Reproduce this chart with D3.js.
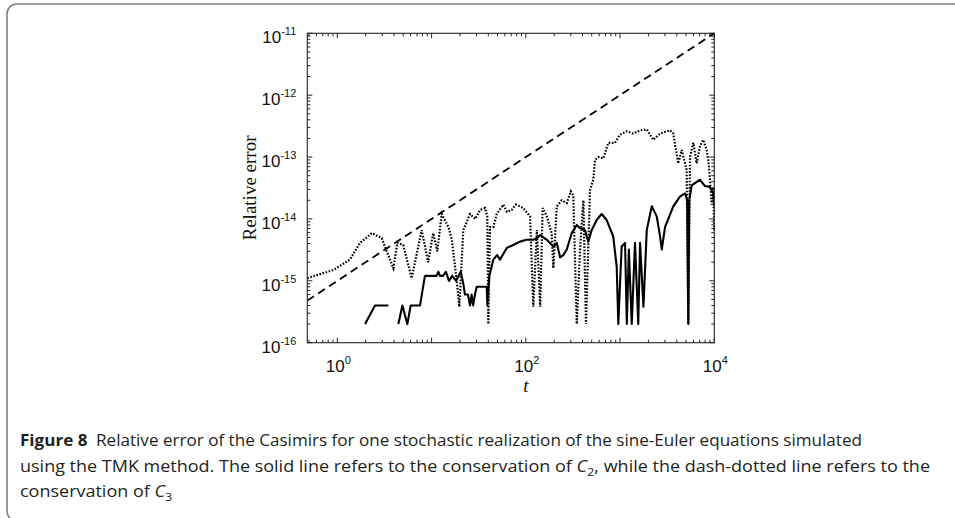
<!DOCTYPE html>
<html lang="en">
<head>
<meta charset="UTF-8">
<title>Figure 8</title>
<script src="https://d3js.org/d3.v7.min.js"></script>
<style>
  body { margin: 0; background: #fff; }
</style>
</head>
<body>
<script>
// page size
const w = 955, h = 518;

// reference line (slope 1 in log-log)
const refT = [0.48, 1e4];
const refErr = [4.8e-16, 1e-11];

// C3 conservation error [t, relative error], dotted line
const c3 = [
  [0.48, 1.1e-15], [0.91, 1.5e-15], [1.36, 2.2e-15], [1.74, 4.1e-15], [2.32, 5.9e-15],
  [2.96, 4.9e-15], [3.34, 3.0e-15], [3.93, 1.6e-15], [4.33, 4.1e-15], [5.0, 3.8e-15],
  [6.15, 1.1e-15], [7.85, 6.6e-15], [9.2, 2.0e-15], [10.4, 5.9e-15], [11.5, 3.0e-15],
  [12.8, 1.2e-14], [15.1, 7.4e-15], [16.4, 4.6e-15], [18.5, 1.0e-15], [19.7, 3.8e-16],
  [21.7, 6.6e-15], [25.6, 1.2e-14], [29, 1.0e-14], [32.7, 1.4e-14], [36.9, 1.5e-14],
  [39.0, 1.1e-14], [40.0, 2e-16], [41.7, 7.4e-15], [45.2, 7.4e-15], [49.1, 1.2e-14],
  [57.7, 1.7e-14], [63, 1.3e-14], [70.8, 1.4e-14], [78, 1.7e-14], [86.7, 1.6e-14],
  [94, 1.5e-14], [111, 1.1e-14], [120, 3.8e-16], [131, 6.6e-15], [142, 3.8e-16],
  [151, 1.5e-14], [167, 1.1e-14], [188, 5.9e-15], [196, 1.6e-15], [213, 1.6e-14],
  [240, 2.0e-14], [272, 1.8e-14], [300, 2.8e-14], [319, 2.4e-14], [347, 2e-16],
  [376, 3.2e-15], [408, 2.0e-14], [435, 2e-16], [480, 2.9e-14], [520, 4.3e-14],
  [542, 9.0e-14], [588, 1.0e-13], [664, 9.5e-14], [750, 1.7e-13], [883, 1.7e-13],
  [998, 2.3e-13], [1180, 2.6e-13], [1380, 2.4e-13], [1630, 2.7e-13], [1920, 2.8e-13],
  [2250, 1.9e-13], [2660, 2.4e-13], [3390, 2.7e-13], [3670, 2.4e-13], [3990, 1.1e-13],
  [4150, 7.9e-14], [4510, 1.3e-13], [5090, 6.2e-14], [5300, 2e-16], [5520, 1.0e-13],
  [5990, 1.7e-13], [6500, 7.9e-14], [7050, 1.5e-13], [7640, 1.9e-13], [8300, 1.3e-13],
  [8630, 8.9e-14], [9000, 4.3e-14], [9380, 1.7e-14], [9750, 3.3e-14], [10000, 6.6e-15]
];

// C2 conservation error, solid line (null = gap in the curve)
const c2 = [
  [1.97, 2e-16], [2.51, 4e-16], [3.48, 4e-16], [3.9, null],
  [4.44, 2e-16], [4.9, 4e-16], [5.53, 2e-16], [6.0, 4e-16], [7.54, 4e-16],
  [8.5, 1.2e-15], [11.3, 1.2e-15], [11.8, 1.4e-15], [12.3, 1.2e-15], [13.2, 1.2e-15],
  [14.2, 1.4e-15], [15.3, 1.0e-15], [16.5, 1.2e-15], [18.2, 1.0e-15], [20.4, 1.4e-15],
  [21.7, 9e-16], [22.6, 6e-16], [24.3, 6e-16], [25.6, 4e-16], [26.6, 6e-16],
  [27.6, 4e-16], [28.9, 6e-16], [30.1, 8e-16], [38.5, 8e-16], [39.1, 4e-16],
  [41.0, 1.2e-15], [45.2, 2.2e-15], [49.5, 2.6e-15], [53.2, 2.2e-15], [62.7, 3.4e-15],
  [73.6, 3.8e-15], [86.7, 4.3e-15], [102, 4.6e-15], [120, 4.6e-15], [131, 4.9e-15],
  [142, 5.5e-15], [167, 4.6e-15], [196, 3.6e-15], [213, 4.1e-15], [231, 2.4e-15],
  [250, 2.6e-15], [272, 3.2e-15], [307, 5.9e-15], [347, 8.0e-15], [376, 7.1e-15],
  [425, 6.6e-15], [460, 4.3e-15], [500, 6.6e-15], [565, 9.6e-15], [638, 1.2e-14],
  [721, 9.6e-15], [847, 5.2e-15], [921, 1.7e-15], [958, 2e-16], [1040, 3.6e-15],
  [1130, 4.1e-15], [1180, 2e-16], [1240, 3.2e-15], [1330, 2e-16], [1440, 4.1e-15],
  [1560, 2e-16], [1630, 4.1e-15], [1770, 3.8e-16], [1920, 6.6e-15], [2170, 1.6e-14],
  [2450, 1.1e-14], [2660, 5.2e-15], [2770, 3.2e-15], [3000, 7.4e-15], [3670, 1.6e-14],
  [4320, 2.3e-14], [4890, 2.6e-14], [5150, 2.0e-14], [5300, 2e-16], [5420, 2.0e-14],
  [5760, 3.5e-14], [7050, 4.3e-14], [7960, 3.4e-14], [9000, 3.3e-14], [9750, 2.6e-14],
  [10000, 1.6e-14]
];

// axis ticks (exponents)
const xExps = [0, 2, 4];
const yExps = [-16, -15, -14, -13, -12, -11];

// caption, split in runs: plain text, italic C, subscript digit
const captionBold = "Figure 8";
const captionLines = [
  [["t", "Relative error of the Casimirs for one stochastic realization of the sine-Euler equations simulated"]],
  [["t", "using the TMK method. The solid line refers to the conservation of "], ["i", "C"], ["s", "2"],
   ["t", ", while the dash-dotted line refers to the"]],
  [["t", "conservation of "], ["i", "C"], ["s", "3"]]
];

const svg = d3.select("body").append("svg")
  .attr("width", w)
  .attr("height", h);

// figure frame (rounded, cut off at right/bottom)
svg.append("path")
  .attr("d", "M 960 4 H 17 A 10 10 0 0 0 7 14 V 511 A 10 10 0 0 0 17 521 H 960")
  .attr("fill", "none")
  .attr("stroke", "#808080")
  .attr("stroke-width", 1.6);

// plot area
const pLeft = 307.3, pRight = 714.3, pTop = 33.3, pBottom = 342.7;

const x = d3.scaleLog().domain([0.48, 1e4]).range([pLeft, pRight]);
const y = d3.scaleLog().domain([1e-16, 1e-11]).range([pBottom, pTop]);

const plot = svg.append("g");

plot.append("defs").append("clipPath").attr("id", "clip")
  .append("rect")
  .attr("x", pLeft).attr("y", pTop - 2)
  .attr("width", pRight - pLeft).attr("height", pBottom - pTop + 4);

const line = d3.line()
  .defined(d => d[1] != null)
  .x(d => x(d[0]))
  .y(d => y(d[1]));

const curves = plot.append("g").attr("clip-path", "url(#clip)");

curves.append("path")
  .datum(refT.map((t, i) => [t, refErr[i]]))
  .attr("d", line)
  .attr("fill", "none")
  .attr("stroke", "#000")
  .attr("stroke-width", 1.8)
  .attr("stroke-dasharray", "8,5");

curves.append("path")
  .datum(c3)
  .attr("d", line)
  .attr("fill", "none")
  .attr("stroke", "#000")
  .attr("stroke-width", 2.2)
  .attr("stroke-dasharray", "1.6,1.6");

curves.append("path")
  .datum(c2)
  .attr("d", line)
  .attr("fill", "none")
  .attr("stroke", "#000")
  .attr("stroke-width", 2.1)
  .attr("stroke-linejoin", "round");

// box
plot.append("rect")
  .attr("x", pLeft).attr("y", pTop)
  .attr("width", pRight - pLeft).attr("height", pBottom - pTop)
  .attr("fill", "none")
  .attr("stroke", "#222")
  .attr("stroke-width", 1.1);

// log ticks, inward on all four sides
const isMajor = v => Math.abs(Math.log10(v) - Math.round(Math.log10(v))) < 1e-9;
const ticks = plot.append("g").attr("stroke", "#222").attr("stroke-width", 1);

x.ticks().forEach(v => {
  const len = isMajor(v) ? 5 : 3;
  const px = x(v);
  ticks.append("line").attr("x1", px).attr("x2", px).attr("y1", pBottom).attr("y2", pBottom - len);
  ticks.append("line").attr("x1", px).attr("x2", px).attr("y1", pTop).attr("y2", pTop + len);
});
y.ticks().forEach(v => {
  const len = isMajor(v) ? 5 : 3;
  const py = y(v);
  ticks.append("line").attr("y1", py).attr("y2", py).attr("x1", pLeft).attr("x2", pLeft + len);
  ticks.append("line").attr("y1", py).attr("y2", py).attr("x1", pRight).attr("x2", pRight - len);
});

// tick labels
const tickFont = "'Liberation Sans', Arial, sans-serif";

yExps.forEach(e => {
  const t = plot.append("text")
    .attr("x", pLeft - 11)
    .attr("y", y(Math.pow(10, e)) + 10)
    .attr("text-anchor", "end")
    .attr("font-family", tickFont)
    .attr("font-size", 17)
    .attr("fill", "#111");
  t.append("tspan").text("10");
  t.append("tspan").attr("dy", -8).attr("font-size", 11).text(e);
});

xExps.forEach(e => {
  const t = plot.append("text")
    .attr("x", x(Math.pow(10, e)) + 1)
    .attr("y", pBottom + 29)
    .attr("text-anchor", "middle")
    .attr("font-family", tickFont)
    .attr("font-size", 17)
    .attr("fill", "#111");
  t.append("tspan").text("10");
  t.append("tspan").attr("dy", -8).attr("font-size", 11).text(e);
});

// axis titles
svg.append("text")
  .attr("transform", "translate(256,188) rotate(-90)")
  .attr("text-anchor", "middle")
  .attr("font-family", "'Liberation Serif', 'DejaVu Serif', serif")
  .attr("font-size", 19)
  .attr("fill", "#111")
  .text("Relative error");

svg.append("text")
  .attr("x", 526)
  .attr("y", 392)
  .attr("text-anchor", "middle")
  .attr("font-family", "'Liberation Serif', serif")
  .attr("font-style", "italic")
  .attr("font-size", 19)
  .attr("fill", "#111")
  .text("t");

// caption
const capFont = "'Open Sans', 'Noto Sans', sans-serif";
const capY = [446, 472, 497];
const capRight = [862, 930, null];

const capTexts = captionLines.map((parts, i) => {
  const t = svg.append("text")
    .attr("x", 20)
    .attr("y", capY[i])
    .attr("font-family", capFont)
    .attr("font-size", 15.5)
    .attr("fill", "#231f20");
  if (i === 0) {
    t.append("tspan").attr("font-weight", "bold").text(captionBold + "\u2002");
  }
  let shifted = false;
  parts.forEach(([kind, str]) => {
    const s = t.append("tspan").text(str);
    if (kind === "i") s.attr("font-style", "italic");
    if (kind === "s") { s.attr("dy", 4).attr("font-size", 11); shifted = true; }
    else if (shifted) { s.attr("dy", -4); shifted = false; }
  });
  return t;
});

// the caption face is condensed: squeeze lines to their measured widths
const natural = capTexts.map(t => t.node().getComputedTextLength());
const squeeze = (capRight[1] - 20) / natural[1];
capTexts.forEach((t, i) => {
  const target = capRight[i] != null ? capRight[i] - 20 : natural[i] * squeeze;
  t.attr("textLength", target).attr("lengthAdjust", "spacingAndGlyphs");
});
</script>
</body>
</html>
